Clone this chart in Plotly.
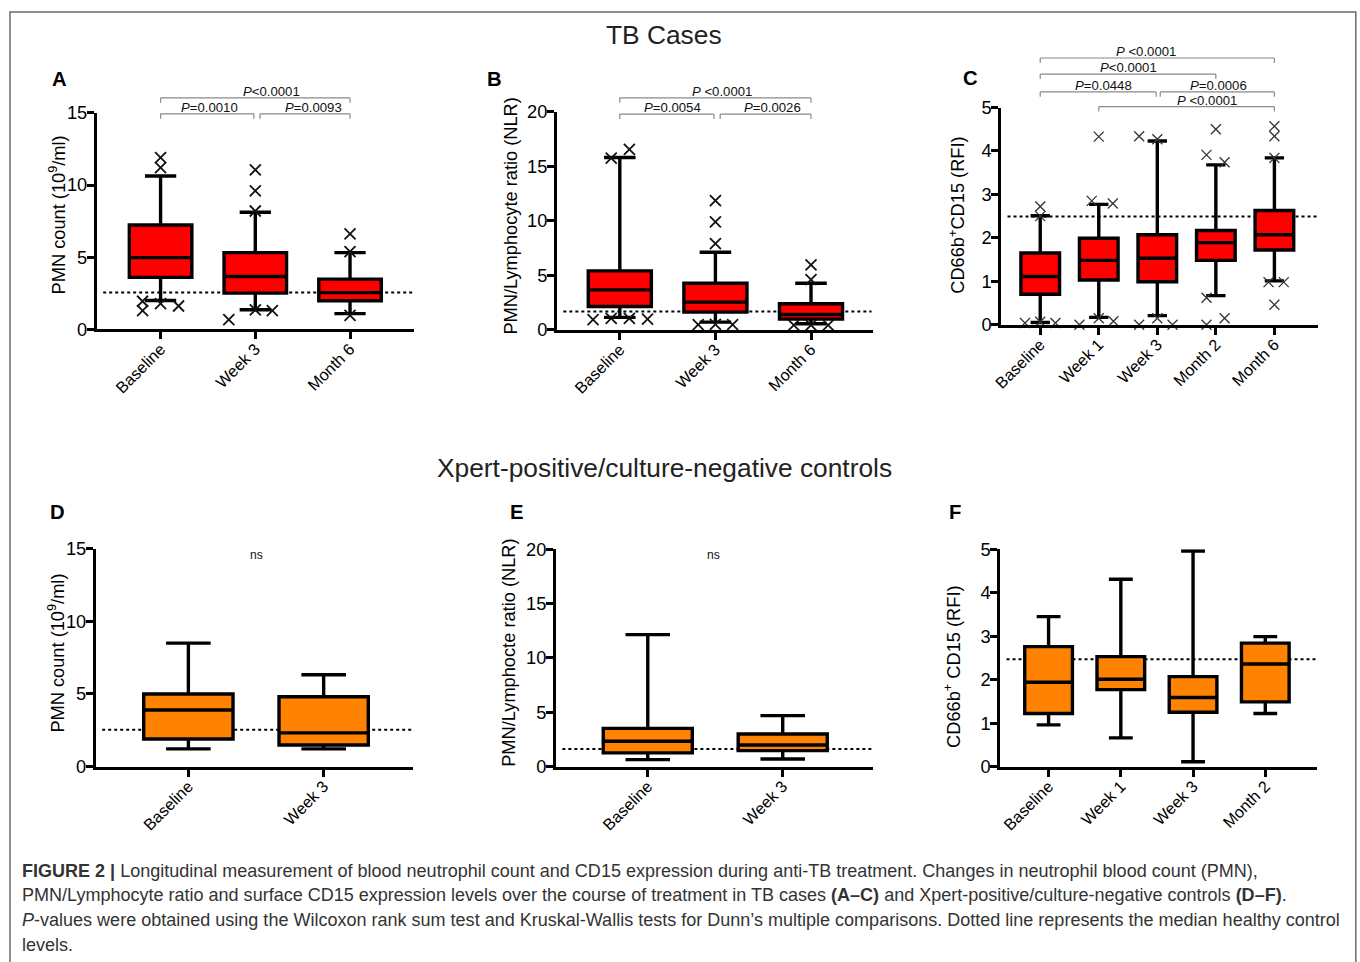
import plotly.graph_objects as go

W, H = 1360, 962
# measured mapping between the drawn page and the photographed picture
# (picture = A + S * page); positions below are given in picture pixels
AX, SX = 9.2, 0.993
AY, SY = 9.0, 0.980

# ---------------- data ----------------
# Panel A: PMN count, TB cases
a_cats = ["Baseline", "Week 3", "Month 6"]
a_q1 = [3.60, 2.51, 1.98]
a_median = [4.97, 3.66, 2.55]
a_q3 = [7.23, 5.32, 3.48]
a_low = [2.00, 1.36, 1.09]
a_high = [10.62, 8.11, 5.32]
a_out_group = [0, 0, 0, 0, 0, 0, 1, 1, 1, 1, 1, 1, 2, 2, 2]
a_out_value = [11.9, 11.2, 1.95, 1.30, 1.78, 1.62, 11.05, 9.6, 8.2, 0.67, 1.35, 1.30, 6.61, 5.39, 0.97]
a_healthy = 2.56
a_pvals = ["P<0.0001", "P=0.0010", "P=0.0093"]

# Panel B: NLR, TB cases
b_cats = ["Baseline", "Week 3", "Month 6"]
b_q1 = [2.13, 1.61, 0.97]
b_median = [3.66, 2.53, 1.40]
b_q3 = [5.40, 4.27, 2.38]
b_low = [1.13, 0.70, 0.55]
b_high = [15.80, 7.11, 4.27]
b_out_group = [0, 0, 0, 0, 0, 0, 1, 1, 1, 1, 1, 1, 2, 2, 2, 2, 2]
b_out_value = [15.75, 16.55, 0.92, 1.05, 1.05, 0.98, 11.85, 9.9, 7.9, 0.46, 0.50, 0.46, 5.95, 4.6, 0.42, 0.42, 0.42]
b_healthy = 1.68
b_pvals = ["P <0.0001", "P=0.0054", "P=0.0026"]

# Panel C: CD66b+CD15 RFI, TB cases
c_cats = ["Baseline", "Week 1", "Week 3", "Month 2", "Month 6"]
c_q1 = [0.70, 1.03, 0.99, 1.48, 1.72]
c_median = [1.11, 1.48, 1.53, 1.89, 2.07]
c_q3 = [1.65, 1.99, 2.07, 2.17, 2.63]
c_low = [0.05, 0.17, 0.21, 0.67, 1.01]
c_high = [2.51, 2.77, 4.23, 3.68, 3.84]
c_out_group = [0, 0, 0, 0, 0,
               1, 1, 1, 1, 1, 1,
               2, 2, 2, 2, 2,
               3, 3, 3, 3, 3, 3,
               4, 4, 4, 4, 4, 4]
c_out_value = [2.72, 2.50, 0.04, 0.07, 0.04,
               4.33, 2.85, 2.79, 0.00, 0.15, 0.08,
               4.34, 4.27, 0.00, 0.15, 0.00,
               4.50, 3.91, 3.74, 0.62, 0.00, 0.15,
               4.57, 4.34, 3.84, 0.98, 0.98, 0.46]
c_healthy = 2.49
c_pvals = ["P <0.0001", "P<0.0001", "P=0.0448", "P=0.0006", "P <0.0001"]

# Panel D: PMN count, Xpert+/culture- controls
d_cats = ["Baseline", "Week 3"]
d_q1 = [1.90, 1.49]
d_median = [3.90, 2.32]
d_q3 = [5.00, 4.81]
d_low = [1.22, 1.22]
d_high = [8.50, 6.32]
d_healthy = 2.54

# Panel E: NLR, controls
e_cats = ["Baseline", "Week 3"]
e_q1 = [1.26, 1.47]
e_median = [2.33, 1.99]
e_q3 = [3.52, 3.00]
e_low = [0.64, 0.70]
e_high = [12.15, 4.69]
e_healthy = 1.62

# Panel F: CD66b+ CD15 RFI, controls
f_cats = ["Baseline", "Week 1", "Week 3", "Month 2"]
f_q1 = [1.22, 1.77, 1.25, 1.49]
f_median = [1.94, 2.01, 1.59, 2.36]
f_q3 = [2.76, 2.53, 2.07, 2.84]
f_low = [0.96, 0.66, 0.11, 1.22]
f_high = [3.45, 4.31, 4.96, 2.99]
f_healthy = 2.47

# ---------------- layout / styles ----------------
# horizontal display offsets of overlapping outlier markers (layout only)
a_jitter = [0, 0, -0.19, -0.19, 0, 0.19, 0, 0, 0, -0.28, 0, 0.18, 0, 0, 0]
b_jitter = [-0.09, 0.10, -0.28, -0.09, 0.10, 0.29, 0, 0, 0, -0.18, 0, 0.18, 0, 0, -0.18, 0, 0.18]
c_jitter = [0, 0, -0.26, 0, 0.26,
            0, -0.12, 0.24, -0.33, 0, 0.25,
            -0.31, 0, -0.31, 0, 0.26,
            0, -0.16, 0.15, -0.16, -0.16, 0.15,
            0, 0, 0, -0.10, 0.16, 0]

RED = "#FF0000"
ORANGE = "#FF8300"
FONT = "Liberation Sans, Arial, Helvetica, sans-serif"
FS = 1.0 / 0.987   # compensates the photographic shrink for font sizes


def fs(s):
    return round(s * FS, 2)


def px(x):
    return ((x - AX) / SX) / W


def py(y):
    return 1 - ((y - AY) / SY) / H


panels = [
    dict(cats=a_cats, q1=a_q1, med=a_median, q3=a_q3, lo=a_low, hi=a_high, color=RED,
         og=a_out_group, ov=a_out_value, oj=a_jitter, healthy=a_healthy,
         xdom=(97, 414), ydom=(111, 328), xr=(-0.673, 2.675), yr=(0, 15), tick=5,
         ytitle="PMN count (10<sup>9</sup>/ml)", ytpos=(57, 213), letter="A", lpos=(60, 77),
         brackets=[(0, 2, 16.03, 1.17, a_pvals[0]), (0, 0.985, 14.93, 0.52, a_pvals[1]),
                   (1.05, 2, 14.93, 1.61, a_pvals[2])], ns=None, msize=11, mw=1.8, mcol="#111"),
    dict(cats=b_cats, q1=b_q1, med=b_median, q3=b_q3, lo=b_low, hi=b_high, color=RED,
         og=b_out_group, ov=b_out_value, oj=b_jitter, healthy=b_healthy,
         xdom=(557, 873), ydom=(110, 328.3), xr=(-0.657, 2.65), yr=(0, 20), tick=5,
         ytitle="PMN/Lymphocyte ratio (NLR)", ytpos=(511, 214), letter="B", lpos=(495, 77),
         brackets=[(0, 2, 21.28, 1.065, b_pvals[0]), (0, 0.985, 19.79, 0.555, b_pvals[1]),
                   (1.05, 2, 19.79, 1.6, b_pvals[2])], ns=None, msize=11, mw=1.8, mcol="#111"),
    dict(cats=c_cats, q1=c_q1, med=c_median, q3=c_q3, lo=c_low, hi=c_high, color=RED,
         og=c_out_group, ov=c_out_value, oj=c_jitter, healthy=c_healthy,
         xdom=(1001, 1318), ydom=(105.7, 323.3), xr=(-0.667, 4.75), yr=(0, 5), tick=1,
         ytitle="CD66b<sup>+</sup>CD15 (RFI)", ytpos=(956, 214), letter="C", lpos=(970, 76),
         brackets=[(0, 4, 6.14, 1.81, c_pvals[0]), (0, 3, 5.77, 1.5, c_pvals[1]),
                   (0, 1.98, 5.36, 1.08, c_pvals[2]), (2.05, 4, 5.36, 3.04, c_pvals[3]),
                   (1, 4, 5.02, 2.85, c_pvals[4])], ns=None, msize=10, mw=1.3, mcol="#333"),
    dict(cats=d_cats, q1=d_q1, med=d_median, q3=d_q3, lo=d_low, hi=d_high, color=ORANGE,
         og=[], ov=[], oj=[], healthy=d_healthy,
         xdom=(96, 413), ydom=(547.7, 766), xr=(-0.684, 1.66), yr=(0, 15), tick=5,
         ytitle="PMN count (10<sup>9</sup>/ml)", ytpos=(56, 652), letter="D", lpos=(58, 511),
         brackets=[], ns=(0.5, 14.6), msize=10, mw=1.5, mcol="#111"),
    dict(cats=e_cats, q1=e_q1, med=e_median, q3=e_q3, lo=e_low, hi=e_high, color=ORANGE,
         og=[], ov=[], oj=[], healthy=e_healthy,
         xdom=(556, 873), ydom=(548.3, 766), xr=(-0.68, 1.67), yr=(0, 20), tick=5,
         ytitle="PMN/Lymphocte ratio (NLR)", ytpos=(509, 652), letter="E", lpos=(517, 511),
         brackets=[], ns=(0.49, 19.48), msize=10, mw=1.5, mcol="#111"),
    dict(cats=f_cats, q1=f_q1, med=f_median, q3=f_q3, lo=f_low, hi=f_high, color=ORANGE,
         og=[], ov=[], oj=[], healthy=f_healthy,
         xdom=(1000, 1317), ydom=(548.3, 766), xr=(-0.67, 3.72), yr=(0, 5), tick=1,
         ytitle="CD66b<sup>+</sup> CD15 (RFI)", ytpos=(952, 666), letter="F", lpos=(955, 511),
         brackets=[], ns=(1.34, 5.13), msize=10, mw=1.5, mcol="#111"),
]

fig = go.Figure()
shapes = []
annotations = []
layout = {}


def fmt_p(s):
    return "<i>P</i>" + s[1:]


for i, p in enumerate(panels):
    n = "" if i == 0 else str(i + 1)
    xa, ya = "x" + n, "y" + n
    pos = list(range(len(p["cats"])))
    fig.add_trace(go.Box(
        x=pos, q1=p["q1"], median=p["med"], q3=p["q3"],
        lowerfence=p["lo"], upperfence=p["hi"],
        width=0.66, whiskerwidth=0.5, fillcolor=p["color"],
        line=dict(color="black", width=3.4), boxpoints=False,
        xaxis=xa, yaxis=ya, showlegend=False, hoverinfo="skip"))
    if p["ov"]:
        fig.add_trace(go.Scatter(
            x=[g + j for g, j in zip(p["og"], p["oj"])], y=p["ov"], mode="markers",
            marker=dict(symbol="x-thin", size=p["msize"],
                        line=dict(color=p["mcol"], width=p["mw"])),
            cliponaxis=False, xaxis=xa, yaxis=ya, showlegend=False, hoverinfo="skip"))

    x0, x1 = p["xdom"]
    y0, y1 = p["ydom"]
    layout["xaxis" + n] = dict(
        domain=[px(x0), px(x1)], range=list(p["xr"]), anchor=ya,
        tickmode="array", tickvals=pos, ticktext=p["cats"], tickangle=-45,
        ticks="outside", ticklen=7, tickwidth=2.5, tickcolor="black",
        ticklabelstandoff=-6,
        showline=True, linewidth=3, linecolor="black", showgrid=False, zeroline=False,
        tickfont=dict(size=fs(16), color="black", family=FONT), fixedrange=True)
    layout["yaxis" + n] = dict(
        domain=[py(y1), py(y0)], range=list(p["yr"]), anchor=xa,
        tickmode="linear", tick0=0, dtick=p["tick"],
        ticks="outside", ticklen=7, tickwidth=2.5, tickcolor="black",
        ticklabelstandoff=-4,
        showline=True, linewidth=3, linecolor="black", showgrid=False, zeroline=False,
        tickfont=dict(size=fs(18), color="black", family=FONT), fixedrange=True)

    # healthy-control dotted line
    shapes.append(dict(type="line", xref=xa + " domain", yref=ya,
                       x0=0.02, x1=0.995, y0=p["healthy"], y1=p["healthy"],
                       line=dict(color="black", width=2, dash="dot"), layer="below"))

    # significance brackets
    hpx = (y1 - y0) / SY
    drop = 5.0 / hpx
    for (bx0, bx1, by, tx, lab) in p["brackets"]:
        f = (by - p["yr"][0]) / (p["yr"][1] - p["yr"][0])
        lc = dict(color="#8a8a8a", width=1.2)
        shapes.append(dict(type="line", xref=xa, yref=ya + " domain", x0=bx0, x1=bx1, y0=f, y1=f, line=lc))
        shapes.append(dict(type="line", xref=xa, yref=ya + " domain", x0=bx0, x1=bx0, y0=f - drop, y1=f, line=lc))
        shapes.append(dict(type="line", xref=xa, yref=ya + " domain", x0=bx1, x1=bx1, y0=f - drop, y1=f, line=lc))
        annotations.append(dict(x=tx, y=f, xref=xa, yref=ya + " domain", text=fmt_p(lab),
                                showarrow=False, xanchor="center", yanchor="bottom", yshift=-3,
                                font=dict(size=fs(13), color="#111", family=FONT)))
    if p["ns"]:
        annotations.append(dict(x=p["ns"][0], y=p["ns"][1], xref=xa, yref=ya, text="ns",
                                showarrow=False, xanchor="center", yanchor="middle",
                                font=dict(size=fs(12), color="#111", family=FONT)))
    # axis title
    annotations.append(dict(x=px(p["ytpos"][0]), y=py(p["ytpos"][1]), xref="paper", yref="paper",
                            text=p["ytitle"], textangle=-90, showarrow=False,
                            xanchor="center", yanchor="middle",
                            font=dict(size=fs(18), color="black", family=FONT)))
    # panel letter
    annotations.append(dict(x=px(p["lpos"][0]), y=py(p["lpos"][1]), xref="paper", yref="paper",
                            text="<b>" + p["letter"] + "</b>", showarrow=False,
                            xanchor="center", yanchor="middle",
                            font=dict(size=fs(20), color="black", family=FONT)))

# section titles
annotations.append(dict(x=px(664), y=py(33), xref="paper", yref="paper", text="TB Cases",
                        showarrow=False, xanchor="center", yanchor="middle",
                        font=dict(size=fs(26), color="#222", family=FONT)))
annotations.append(dict(x=px(664), y=py(467), xref="paper", yref="paper",
                        text="Xpert-positive/culture-negative controls",
                        showarrow=False, xanchor="center", yanchor="middle",
                        font=dict(size=fs(26), color="#222", family=FONT)))

caption = [
    "<b>FIGURE 2 |</b> Longitudinal measurement of blood neutrophil count and CD15 expression during anti-TB treatment. Changes in neutrophil blood count (PMN),",
    "PMN/Lymphocyte ratio and surface CD15 expression levels over the course of treatment in TB cases <b>(A–C)</b> and Xpert-positive/culture-negative controls <b>(D–F)</b>.",
    "<i>P</i>-values were obtained using the Wilcoxon rank sum test and Kruskal-Wallis tests for Dunn’s multiple comparisons. Dotted line represents the median healthy control",
    "levels.",
]
for k, (line, yy) in enumerate(zip(caption, [871, 895, 920, 945])):
    annotations.append(dict(x=px(20), y=py(yy), xref="paper", yref="paper", text=line,
                            showarrow=False, xanchor="left", yanchor="middle",
                            font=dict(size=fs(17.8), color="#333", family=FONT)))

# outer frame (left/top edges kept inside the drawable page)
shapes.append(dict(type="rect", xref="paper", yref="paper",
                   x0=max(px(7.5), 1.0 / W), x1=px(1355.5),
                   y0=py(1000), y1=min(py(6.5), 1 - 1.0 / H),
                   line=dict(color="#6a6a6a", width=1.5)))

fig.update_layout(
    width=W, height=H, autosize=False,
    margin=dict(l=0, r=0, t=0, b=0),
    paper_bgcolor="white", plot_bgcolor="white",
    shapes=shapes, annotations=annotations,
    font=dict(family=FONT, color="black"),
    **layout)

pin_js = (
    "document.documentElement.style.margin='0';"
    "document.documentElement.style.padding='0';"
    "document.body.style.margin='0';"
    "document.body.style.padding='0';"
    "document.body.style.overflow='hidden';"
)

fig.write_html("out.html", config={"displayModeBar": False}, post_script=pin_js)
